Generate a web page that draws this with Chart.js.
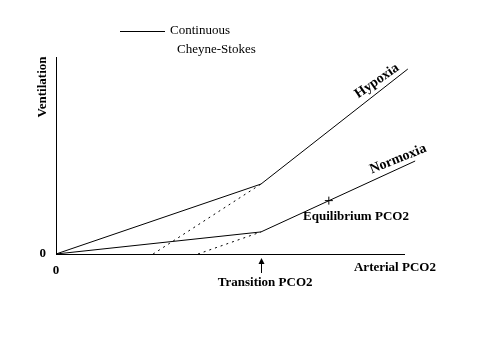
<!DOCTYPE html>
<html lang="en">
<head>
    <meta charset="UTF-8">
    <title>Ventilation vs Arterial PCO2</title>
    <style>
        body {
            margin: 0;
            background-color: #fff;
        }
        #chart-container {
            width: 480px;
            height: 360px;
        }
    </style>
</head>
<body>
    <div id="chart-container">
        <canvas id="vent-chart"></canvas>
    </div>

    <script src="https://cdn.jsdelivr.net/npm/chart.js"></script>
    <script>
        // Arterial PCO2 (x) and ventilation (y), arbitrary units 0-100
        const hypoxiaX = [0, 58.9, 101.1];
        const hypoxiaY = [0, 35.5, 93.9];
        const normoxiaX = [0, 58.9, 103.2];
        const normoxiaY = [0, 11.2, 47.2];
        // Cheyne-Stokes (dotted) segments
        const csHypoxiaX = [27.9, 58.9];
        const csHypoxiaY = [0, 35.5];
        const csNormoxiaX = [40.8, 58.9];
        const csNormoxiaY = [0, 11.2];
        const equilibrium = { x: 78.4, y: 27.1 };
        const transitionX = 58.9;
        const tickValues = [0];

        const serif = '"Liberation Serif", "Times New Roman", serif';

        function pts(xs, ys) {
            return xs.map((x, i) => ({ x: x, y: ys[i] }));
        }

        function line(data, dash) {
            return {
                data: data,
                showLine: true,
                borderColor: '#000',
                borderWidth: 1,
                borderDash: dash || [],
                pointRadius: 0,
                clip: false
            };
        }

        // Text, legend and arrow drawn on top of the chart
        const annotations = {
            id: 'annotations',
            afterDraw(chart) {
                const ctx = chart.ctx;
                const xs = chart.scales.x;
                const ys = chart.scales.y;
                const px = v => xs.getPixelForValue(v);
                const py = v => ys.getPixelForValue(v);

                ctx.save();
                ctx.fillStyle = '#000';
                ctx.strokeStyle = '#000';
                ctx.textBaseline = 'middle';
                ctx.textAlign = 'center';

                function text(str, x, y, font, angle) {
                    ctx.save();
                    ctx.font = font;
                    ctx.translate(x, y);
                    ctx.rotate((angle || 0) * Math.PI / 180);
                    ctx.fillText(str, 0, 0);
                    ctx.restore();
                }

                const bold13 = 'bold 13px ' + serif;
                const bold14 = 'bold 14px ' + serif;

                text('Ventilation', chart.chartArea.left - 13, py(84.8), bold13, -90);
                text('Arterial PCO2', px(97.4), py(-7.1), bold13);
                text('Transition PCO2', px(60.1), py(-14.7), bold13);
                text('Equilibrium PCO2', px(86.2), py(18.8), bold13);
                text('Hypoxia', px(92.2), py(87.8), bold14, -35);
                text('Normoxia', px(98.3), py(48.2), bold14, -22);

                // arrow pointing to the transition PCO2
                const ax = Math.round(px(transitionX)) + 0.5;
                const axisY = py(0);
                ctx.lineWidth = 1;
                ctx.beginPath();
                ctx.moveTo(ax, axisY + 19);
                ctx.lineTo(ax, axisY + 8);
                ctx.stroke();
                ctx.beginPath();
                ctx.moveTo(ax, axisY + 4);
                ctx.lineTo(ax - 3, axisY + 10);
                ctx.lineTo(ax + 3, axisY + 10);
                ctx.closePath();
                ctx.fill();

                // legend
                ctx.beginPath();
                ctx.moveTo(120, 31.5);
                ctx.lineTo(165, 31.5);
                ctx.stroke();
                ctx.textAlign = 'left';
                ctx.font = '13px ' + serif;
                ctx.fillText('Continuous', 170, 31);
                ctx.fillText('Cheyne-Stokes', 177, 50);

                ctx.restore();
            }
        };

        const ctx = document.getElementById('vent-chart').getContext('2d');
        const ventChart = new Chart(ctx, {
            type: 'scatter',
            data: {
                datasets: [
                    line(pts(hypoxiaX, hypoxiaY)),
                    line(pts(normoxiaX, normoxiaY)),
                    line(pts(csHypoxiaX, csHypoxiaY), [2, 4]),
                    line(pts(csNormoxiaX, csNormoxiaY), [2, 4]),
                    {
                        data: [equilibrium],
                        pointStyle: 'cross',
                        pointRadius: 4,
                        borderColor: '#000',
                        borderWidth: 1,
                        clip: false
                    }
                ]
            },
            options: {
                responsive: true,
                maintainAspectRatio: false,
                animation: false,
                layout: { padding: { left: 36, right: 76, top: 57, bottom: 76 } },
                plugins: {
                    legend: { display: false },
                    tooltip: { enabled: false }
                },
                scales: {
                    x: {
                        type: 'linear',
                        min: 0,
                        max: 100,
                        grid: { display: false, drawTicks: false },
                        border: { color: '#000', width: 1 },
                        afterBuildTicks: s => { s.ticks = tickValues.map(v => ({ value: v })); },
                        afterFit: s => { s.height = 30; },
                        ticks: {
                            padding: 9,
                            color: '#000',
                            font: { family: serif, size: 13, weight: 'bold' },
                            callback: v => String(v)
                        }
                    },
                    y: {
                        type: 'linear',
                        min: 0,
                        max: 100,
                        grid: { display: false, drawTicks: false },
                        border: { color: '#000', width: 1 },
                        afterBuildTicks: s => { s.ticks = tickValues.map(v => ({ value: v })); },
                        afterFit: s => { s.width = 20; },
                        ticks: {
                            padding: 10,
                            color: '#000',
                            font: { family: serif, size: 13, weight: 'bold' },
                            callback: v => String(v)
                        }
                    }
                }
            },
            plugins: [annotations]
        });
    </script>
</body>
</html>
